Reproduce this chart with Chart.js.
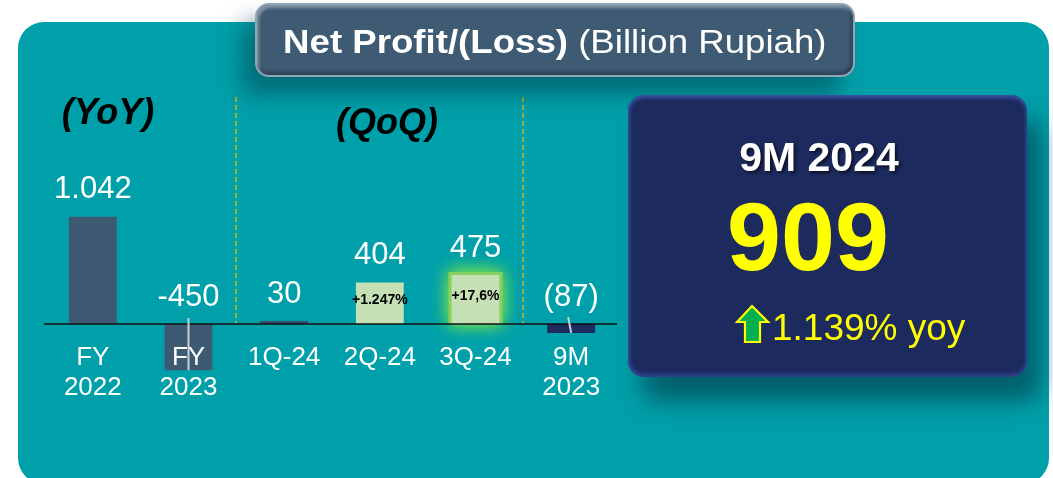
<!DOCTYPE html>
<html>
<head>
<meta charset="utf-8">
<script src="https://cdn.jsdelivr.net/npm/chart.js@4.4.1/dist/chart.umd.min.js"></script>
<style>
html, body { margin: 0; padding: 0; background: #fff; width: 1053px; height: 478px; overflow: hidden; font-family: "Liberation Sans", Arial, sans-serif; }
#panel { position: absolute; left: 18px; top: 22px; width: 1031px; height: 462px; background: #00A0AA; border-radius: 26px; }
#chart { position: absolute; left: 0; top: 0; z-index: 1; }
#titleBox { position: absolute; left: 255px; top: 3px; width: 600px; height: 74px; z-index: 2; box-sizing: border-box;
  background: #3F5B74; border-radius: 14px; border: 2px solid #8FA5B8;
  box-shadow: -14px 18px 22px rgba(0, 70, 80, 0.55), inset 2px 3px 3px rgba(255,255,255,0.35), inset -2px -3px 4px rgba(0,0,0,0.3); }
#titleText { position: absolute; left: 255px; width: 600px; top: 25px; z-index: 3; font-size: 33px; line-height: 33px; color: #fff; text-align: center; white-space: nowrap; }
#titleText span.in { display: inline-block; transform: scaleX(1.11); }
.tag { position: absolute; z-index: 3; font-size: 36px; line-height: 36px; font-weight: bold; font-style: italic; color: #000; text-align: center; width: 200px; white-space: nowrap; }
#navy { position: absolute; left: 628px; top: 95px; width: 399px; height: 282px; z-index: 2; border-radius: 16px;
  background: #1C2A5D;
  box-shadow: 14px 24px 24px rgba(0, 75, 85, 0.75), inset 0 3px 4px rgba(70, 100, 190, 0.7), inset 0 -3px 5px rgba(60, 90, 180, 0.55), inset 3px 0 4px rgba(50,70,140,0.4); }
.big { position: absolute; z-index: 3; text-align: center; width: 400px; white-space: nowrap; }
#period { left: 619px; top: 137px; font-size: 41px; line-height: 41px; font-weight: bold; color: #fff; text-shadow: 2px 2px 3px rgba(0,0,0,0.6); }
#total { left: 608px; top: 188px; font-size: 97px; line-height: 97px; font-weight: bold; color: #FFFF00; }
#yoy { position: absolute; z-index: 3; left: 772px; top: 309px; font-size: 37px; line-height: 37px; color: #FFFF00; white-space: nowrap; }
#arrow { position: absolute; z-index: 3; left: 735px; top: 304px; }
</style>
</head>
<body>
<div id="panel"></div>
<canvas id="chart" width="1053" height="478"></canvas>
<div id="titleBox"></div>
<div id="titleText"><span class="in"><b>Net Profit/(Loss)</b> (Billion Rupiah)</span></div>
<div class="tag" style="left:8px; top:94px;">(YoY)</div>
<div class="tag" style="left:287px; top:104px;">(QoQ)</div>
<div id="navy"></div>
<div id="period" class="big">9M 2024</div>
<div id="total" class="big">909</div>
<svg id="arrow" width="36" height="40" viewBox="0 0 36 40">
  <polygon points="17,2 33,18 25,18 25,38 10,38 10,18 2,18" fill="#00B050" stroke="#FFFF00" stroke-width="2.2" stroke-linejoin="miter"/>
</svg>
<div id="yoy">1.139% yoy</div>
<script>
// data
const categories = [['FY', '2022'], ['FY', '2023'], ['1Q-24'], ['2Q-24'], ['3Q-24'], ['9M', '2023']];
const profitValues = [1042, -450, 30, 404, 475, -87];
const valueLabels = ['1.042', '-450', '30', '404', '475', '(87)'];
const growthNotes = ['', '', '', '+1.247%', '+17,6%', ''];
const barColors = ['#3E5A72', '#3E5A72', '#34506C', '#C5E0B4', '#C5E0B4', '#1D2B5E'];

const annotate = {
    id: 'annotate',
    beforeDatasetsDraw(chart) {
        const { ctx, scales: { x, y } } = chart;
        const zero = y.getPixelForValue(0);
        const bars = chart.getDatasetMeta(0).data;

        // dashed separators between YoY / QoQ / 9M groups
        ctx.save();
        ctx.strokeStyle = '#F5B800';
        ctx.lineWidth = 1.3;
        ctx.setLineDash([5, 3]);
        [1, 4].forEach(i => {
            const sx = Math.round((x.getPixelForValue(i) + x.getPixelForValue(i + 1)) / 2);
            ctx.beginPath();
            ctx.moveTo(sx, 97);
            ctx.lineTo(sx, zero);
            ctx.stroke();
        });
        ctx.restore();

        // green glow behind 3Q-24
        const b = bars[4];
        ctx.save();
        ctx.shadowColor = 'rgba(110, 220, 80, 1)';
        ctx.shadowBlur = 16;
        ctx.fillStyle = '#86D060';
        ctx.fillRect(b.x - b.width / 2 - 3, b.y - 3, b.width + 6, zero - b.y + 3);
        ctx.fillRect(b.x - b.width / 2 - 3, b.y - 3, b.width + 6, zero - b.y + 3);
        ctx.restore();
    },
    afterDatasetsDraw(chart) {
        const { ctx, chartArea, scales: { y } } = chart;
        const zero = y.getPixelForValue(0);
        const bars = chart.getDatasetMeta(0).data;

        ctx.save();
        // axis line
        ctx.strokeStyle = '#111';
        ctx.lineWidth = 1.5;
        ctx.beginPath();
        ctx.moveTo(chartArea.left - 1, zero);
        ctx.lineTo(chartArea.right - 2, zero);
        ctx.stroke();

        // leader lines for negative labels
        ctx.strokeStyle = '#C9D0D6';
        ctx.lineWidth = 2;
        ctx.beginPath();
        ctx.moveTo(bars[1].x, zero - 6);
        ctx.lineTo(bars[1].x, bars[1].y);
        ctx.moveTo(bars[5].x - 3, zero - 7);
        ctx.lineTo(bars[5].x, bars[5].y);
        ctx.stroke();

        ctx.fillStyle = '#fff';
        ctx.textAlign = 'center';
        ctx.textBaseline = 'alphabetic';

        // value labels
        ctx.font = '31px "Liberation Sans", Arial, sans-serif';
        bars.forEach((bar, i) => {
            const ly = profitValues[i] >= 0 ? bar.y - 18.3 : zero - 18;
            ctx.fillText(valueLabels[i], bar.x, ly);
        });

        // category labels
        ctx.font = '26px "Liberation Sans", Arial, sans-serif';
        bars.forEach((bar, i) => {
            categories[i].forEach((line, k) => ctx.fillText(line, bar.x, zero + 41 + k * 30));
        });

        // growth notes inside bars
        ctx.fillStyle = '#000';
        ctx.font = 'bold 14px "Liberation Sans", Arial, sans-serif';
        ctx.textBaseline = 'middle';
        bars.forEach((bar, i) => {
            if (growthNotes[i]) ctx.fillText(growthNotes[i], bar.x, (bar.y + zero) / 2 - 3);
        });
        ctx.restore();
    }
};

new Chart(document.getElementById('chart'), {
    type: 'bar',
    data: {
        labels: categories,
        datasets: [{
            data: profitValues,
            backgroundColor: barColors,
            borderWidth: 0,
            barPercentage: 0.5,
            categoryPercentage: 1
        }]
    },
    options: {
        responsive: false,
        animation: false,
        events: [],
        layout: { padding: { left: 45, right: 434, top: 200.5, bottom: 92.3 } },
        plugins: { legend: { display: false }, tooltip: { enabled: false } },
        scales: {
            x: { display: false },
            y: { display: false, min: -600, max: 1200 }
        }
    },
    plugins: [annotate]
});
</script>
</body>
</html>
